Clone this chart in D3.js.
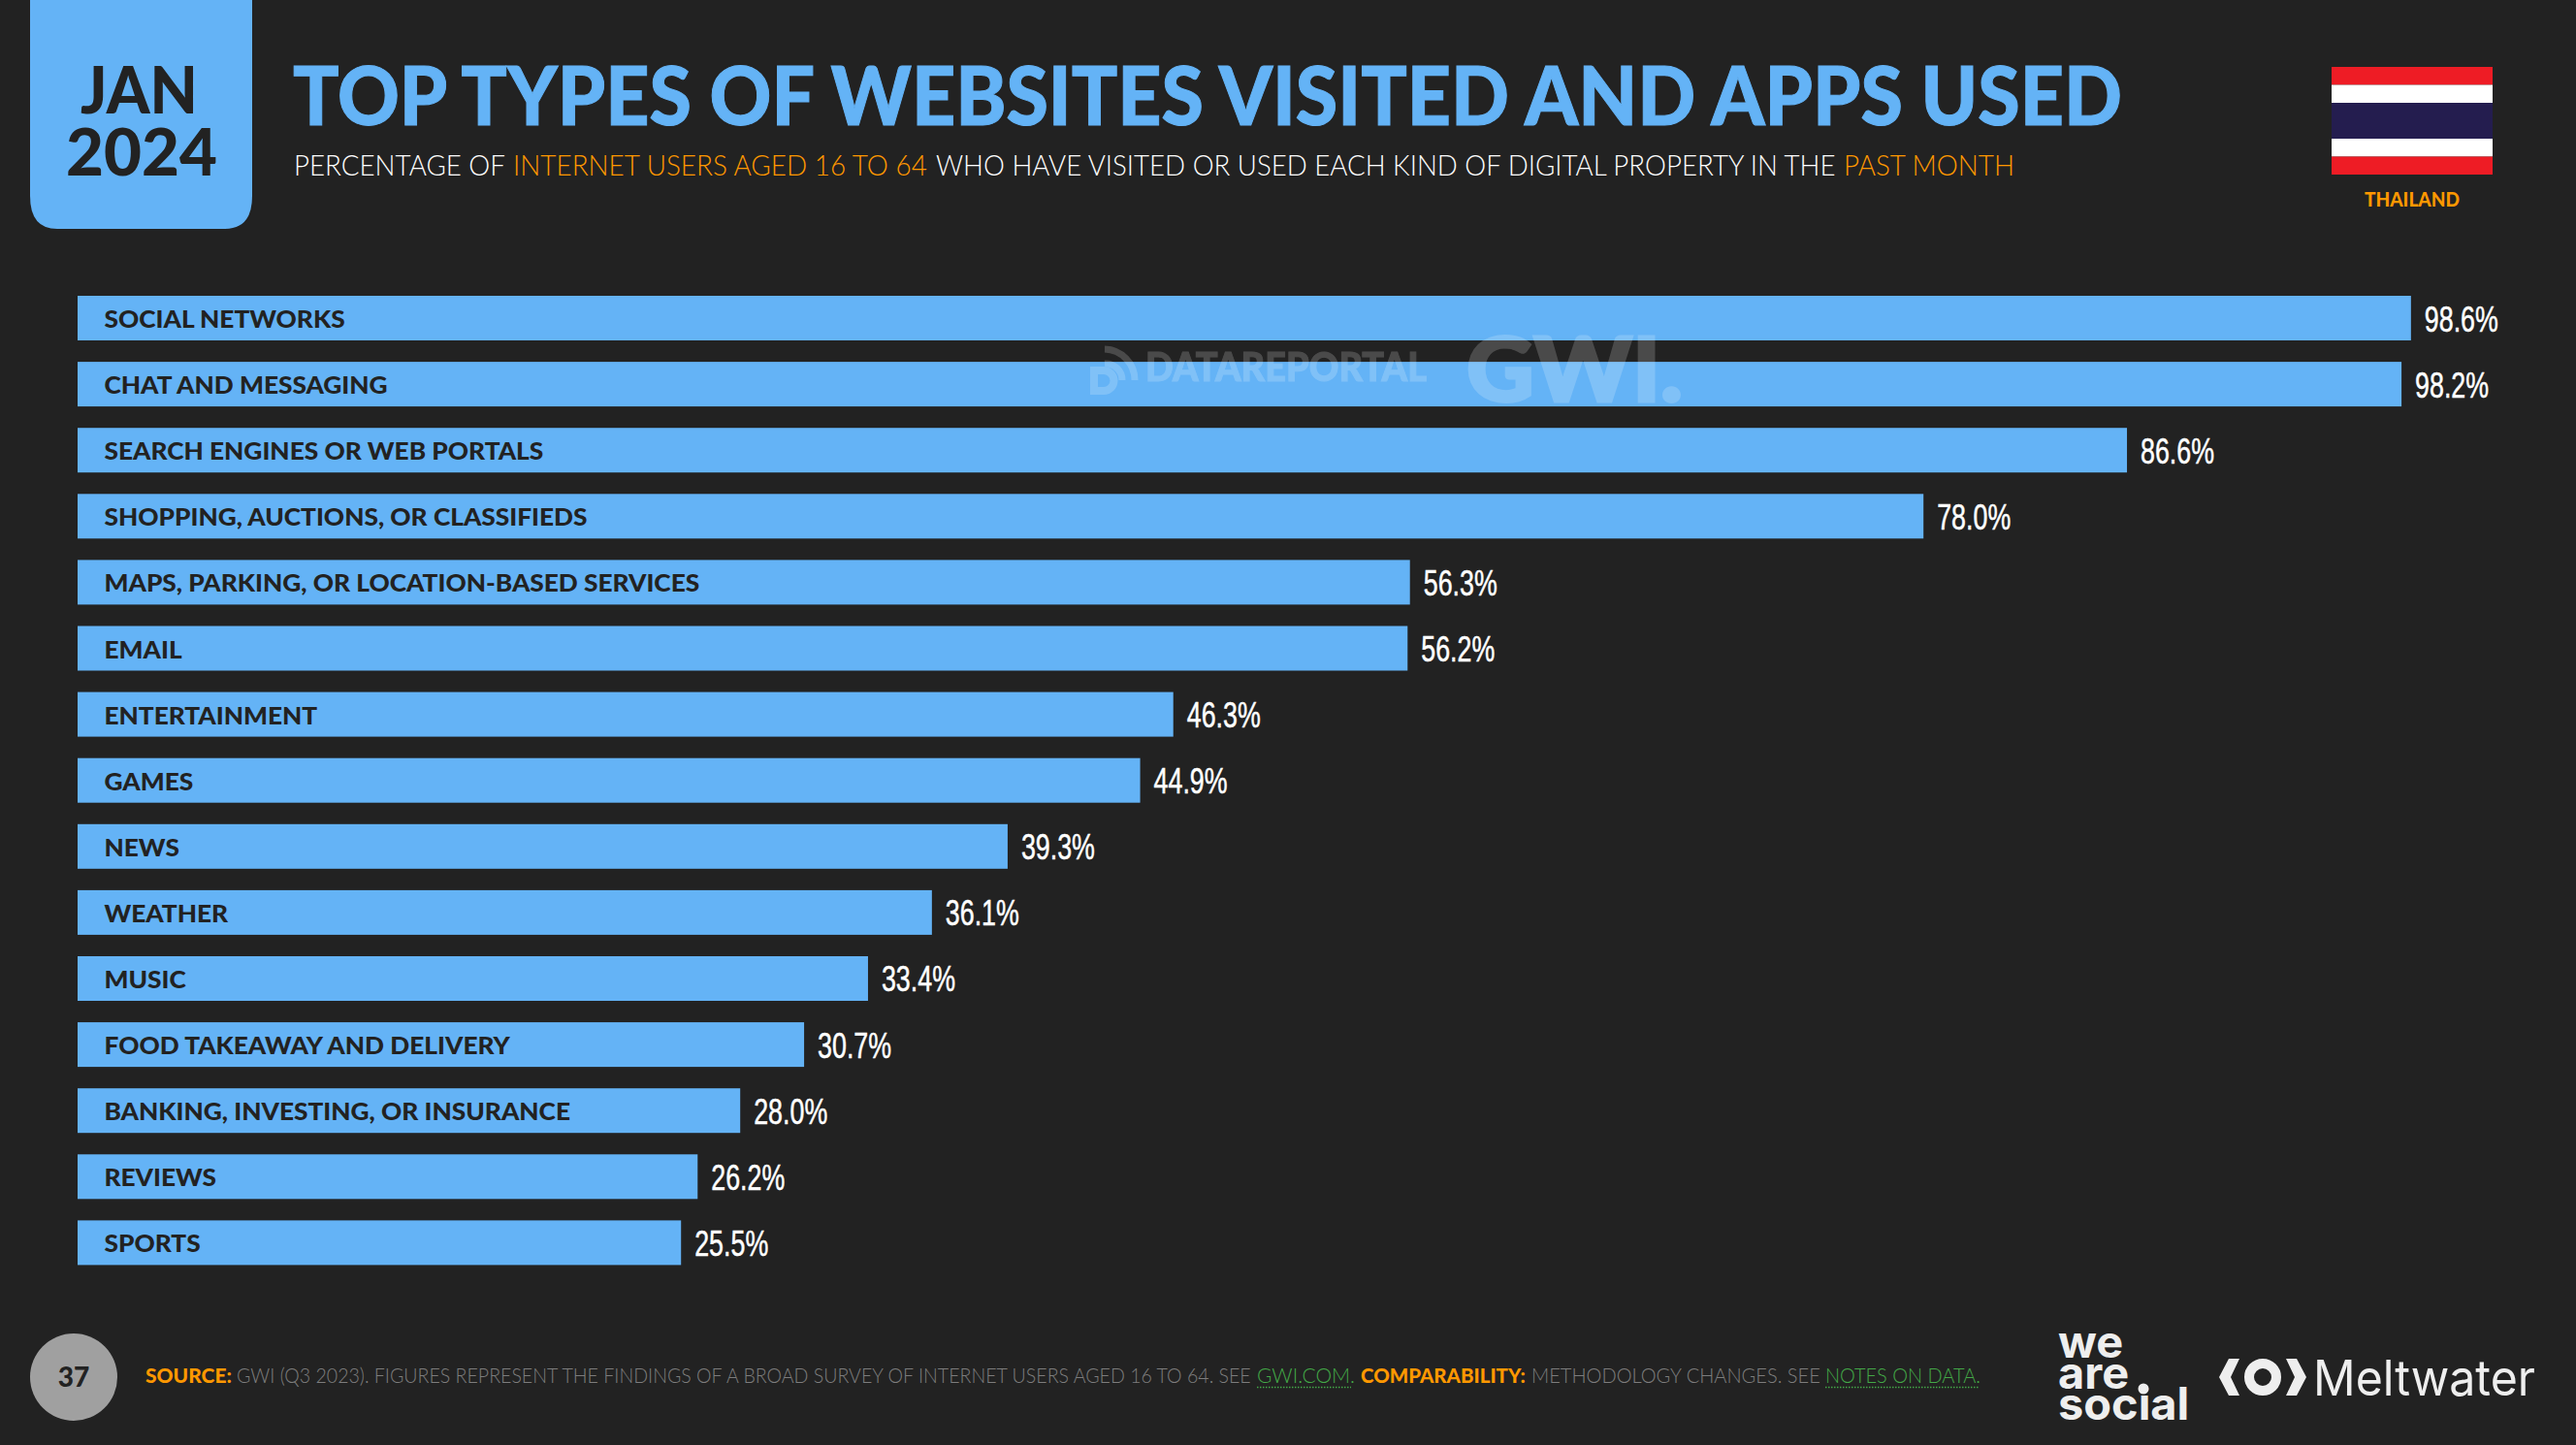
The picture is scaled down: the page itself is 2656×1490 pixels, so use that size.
<!DOCTYPE html>
<html>
<head>
<meta charset="utf-8">
<script src="https://cdnjs.cloudflare.com/ajax/libs/d3/7.8.5/d3.min.js"></script>
<style>
html, body { margin: 0; padding: 0; background: #222222; }
svg { display: block; }
text { font-family: "Lato", sans-serif; }
</style>
</head>
<body>
<svg id="chart" width="2656" height="1490"></svg>
<script>
const categories = [
    "SOCIAL NETWORKS", "CHAT AND MESSAGING", "SEARCH ENGINES OR WEB PORTALS",
    "SHOPPING, AUCTIONS, OR CLASSIFIEDS", "MAPS, PARKING, OR LOCATION-BASED SERVICES",
    "EMAIL", "ENTERTAINMENT", "GAMES", "NEWS", "WEATHER", "MUSIC",
    "FOOD TAKEAWAY AND DELIVERY", "BANKING, INVESTING, OR INSURANCE", "REVIEWS", "SPORTS"
];
const values = [98.6, 98.2, 86.6, 78.0, 56.3, 56.2, 46.3, 44.9, 39.3, 36.1, 33.4, 30.7, 28.0, 26.2, 25.5];

const BLUE = "#64b3f6", BG = "#222222", ORANGE = "#ff9800", GREEN = "#43a847", GREY = "#7d7d7d", LOGO = "#eeeeee";

const svg = d3.select("#chart");
svg.append("rect").attr("width", 2656).attr("height", 1490).attr("fill", BG);

const x = d3.scaleLinear().domain([0, 100]).range([80, 2520]);
const y = d3.scaleBand().domain(categories).range([305, 1304.4]).paddingInner(0.3245).paddingOuter(0);

// text squeezed or stretched sideways to the width it has in the slide
function fitted(parent, str, x0, x1, base, size, weight, fill) {
    const t = parent.append("text")
        .attr("font-size", size).attr("font-weight", weight).attr("fill", fill)
        .text(str);
    const sx = (x1 - x0) / t.node().getComputedTextLength();
    t.attr("transform", "translate(" + x0 + "," + base + ") scale(" + sx + ",1)");
    return t;
}

// date badge
svg.append("path")
    .attr("d", "M31,0H260V202Q260,236 232,236H59Q31,236 31,202Z")
    .attr("fill", BLUE);
fitted(svg, "JAN", 83, 204, 117, 66, 900, BG);
fitted(svg, "2024", 68, 224, 181, 66, 900, BG);

// headline
fitted(svg, "TOP TYPES OF WEBSITES VISITED AND APPS USED", 302, 2188, 129, 84, 900, BLUE)
    .attr("stroke", BLUE).attr("stroke-width", 1);
fitted(svg, "PERCENTAGE OF", 303, 521, 181, 30, 300, "#ffffff");
fitted(svg, "INTERNET USERS AGED 16 TO 64", 529, 956, 181, 30, 300, ORANGE);
fitted(svg, "WHO HAVE VISITED OR USED EACH KIND OF DIGITAL PROPERTY IN THE", 965, 1893, 181, 30, 300, "#ffffff");
fitted(svg, "PAST MONTH", 1901, 2077, 181, 30, 300, ORANGE);

// flag
const flagY = d3.scaleLinear().domain([0, 6]).range([69, 180]);
[[0, 1, "#ee1c25"], [1, 2, "#ffffff"], [2, 4, "#241d4f"], [4, 5, "#ffffff"], [5, 6, "#ee1c25"]].forEach(s => {
    svg.append("rect").attr("x", 2404).attr("width", 166)
        .attr("y", flagY(s[0])).attr("height", flagY(s[1]) - flagY(s[0])).attr("fill", s[2]);
});
fitted(svg, "THAILAND", 2438, 2536, 213, 21, 900, ORANGE);

// bars
svg.selectAll(".bar").data(categories).enter().append("rect")
    .attr("class", "bar")
    .attr("x", x(0))
    .attr("y", d => y(d))
    .attr("width", (d, i) => x(values[i]) - x(0))
    .attr("height", y.bandwidth())
    .attr("fill", BLUE);

svg.selectAll(".cat").data(categories).enter().append("text")
    .attr("class", "cat")
    .attr("transform", d => "translate(107.5," + (y(d) + y.bandwidth() / 2 + 10) + ") scale(1.05,1)")
    .attr("font-size", 25).attr("font-weight", 900).attr("fill", BG)
    .text(d => d);

svg.selectAll(".val").data(categories).enter().append("text")
    .attr("class", "val")
    .attr("transform", (d, i) => "translate(" + (x(values[i]) + 14) + "," + (y(d) + y.bandwidth() / 2 + 13.5) + ") scale(0.725,1)")
    .attr("font-size", 37).attr("fill", "#ffffff")
    .attr("stroke", "#ffffff").attr("stroke-width", 0.5)
    .style("font-family", '"Liberation Sans", sans-serif')
    .text((d, i) => values[i].toFixed(1) + "%");

// watermark over the bars
const mark = svg.append("g").attr("opacity", 0.185);
fitted(mark, "DATAREPORTAL", 1181, 1471, 393, 42, 900, "#ffffff").attr("stroke", "#ffffff").attr("stroke-width", 1);
fitted(mark, "GWI.", 1512, 1735, 414, 92, 900, "#ffffff").attr("stroke", "#ffffff").attr("stroke-width", 3);
mark.append("path").attr("fill", "none").attr("stroke", "#ffffff").attr("stroke-width", 7)
    .attr("d", "M1139,375a17,17 0 0 1 18,17M1139,360a32,32 0 0 1 31,32");
mark.append("path").attr("fill", "#ffffff").attr("fill-rule", "evenodd")
    .attr("d", "M1124,378H1138A14.5,14.5 0 0 1 1138,407H1124ZM1132,386H1138A6.5,6.5 0 0 1 1138,399H1132Z");

// footer
svg.append("circle").attr("cx", 76).attr("cy", 1420).attr("r", 45).attr("fill", "#a0a0a0");
svg.append("text").attr("x", 76).attr("y", 1430).attr("text-anchor", "middle")
    .attr("font-size", 28).attr("font-weight", 900).attr("fill", BG).text("37");

fitted(svg, "SOURCE:", 150, 239, 1426, 21, 900, ORANGE);
fitted(svg, "GWI (Q3 2023). FIGURES REPRESENT THE FINDINGS OF A BROAD SURVEY OF INTERNET USERS AGED 16 TO 64. SEE", 244, 1290, 1426, 21, 300, GREY);
fitted(svg, "GWI.COM.", 1296, 1397, 1426, 21, 300, GREEN);
fitted(svg, "COMPARABILITY:", 1403, 1573, 1426, 21, 900, ORANGE);
fitted(svg, "METHODOLOGY CHANGES. SEE", 1579, 1877, 1426, 21, 300, GREY);
fitted(svg, "NOTES ON DATA.", 1882, 2042, 1426, 21, 300, GREEN);
[[1296, 1393], [1882, 2040]].forEach(u => {
    svg.append("line").attr("x1", u[0]).attr("x2", u[1]).attr("y1", 1430.5).attr("y2", 1430.5)
        .attr("stroke", GREEN).attr("stroke-width", 1.5).attr("stroke-dasharray", "1.5 1.5");
});

// logos
const wordmark = svg.append("text")
    .attr("font-size", 46).attr("font-weight", 700).attr("fill", LOGO)
    .style("font-family", "Inter, sans-serif")
    .attr("transform", "translate(2122,1400) scale(1.02,1)");
["we", "are", "social"].forEach((w, i) => {
    wordmark.append("tspan").attr("x", 0).attr("y", [0, 32, 64][i]).text(w);
});
svg.append("circle").attr("cx", 2210).attr("cy", 1432).attr("r", 5.5).attr("fill", LOGO);

const meltwater = fitted(svg, "Meltwater", 2385, 2614, 1439, 51, 400, LOGO);
meltwater.style("font-family", "Inter, sans-serif");
meltwater.attr("transform", "translate(2385,1439) scale(" + (229 / meltwater.node().getComputedTextLength()) + ",1)");
svg.append("path").attr("fill", LOGO)
    .attr("d", "M2288,1420L2298,1401H2309L2300,1420L2309,1439H2298ZM2378,1420L2368,1401H2357L2366,1420L2357,1439H2368Z");
svg.append("circle").attr("cx", 2333).attr("cy", 1420).attr("r", 14)
    .attr("fill", "none").attr("stroke", LOGO).attr("stroke-width", 10);
</script>
</body>
</html>
